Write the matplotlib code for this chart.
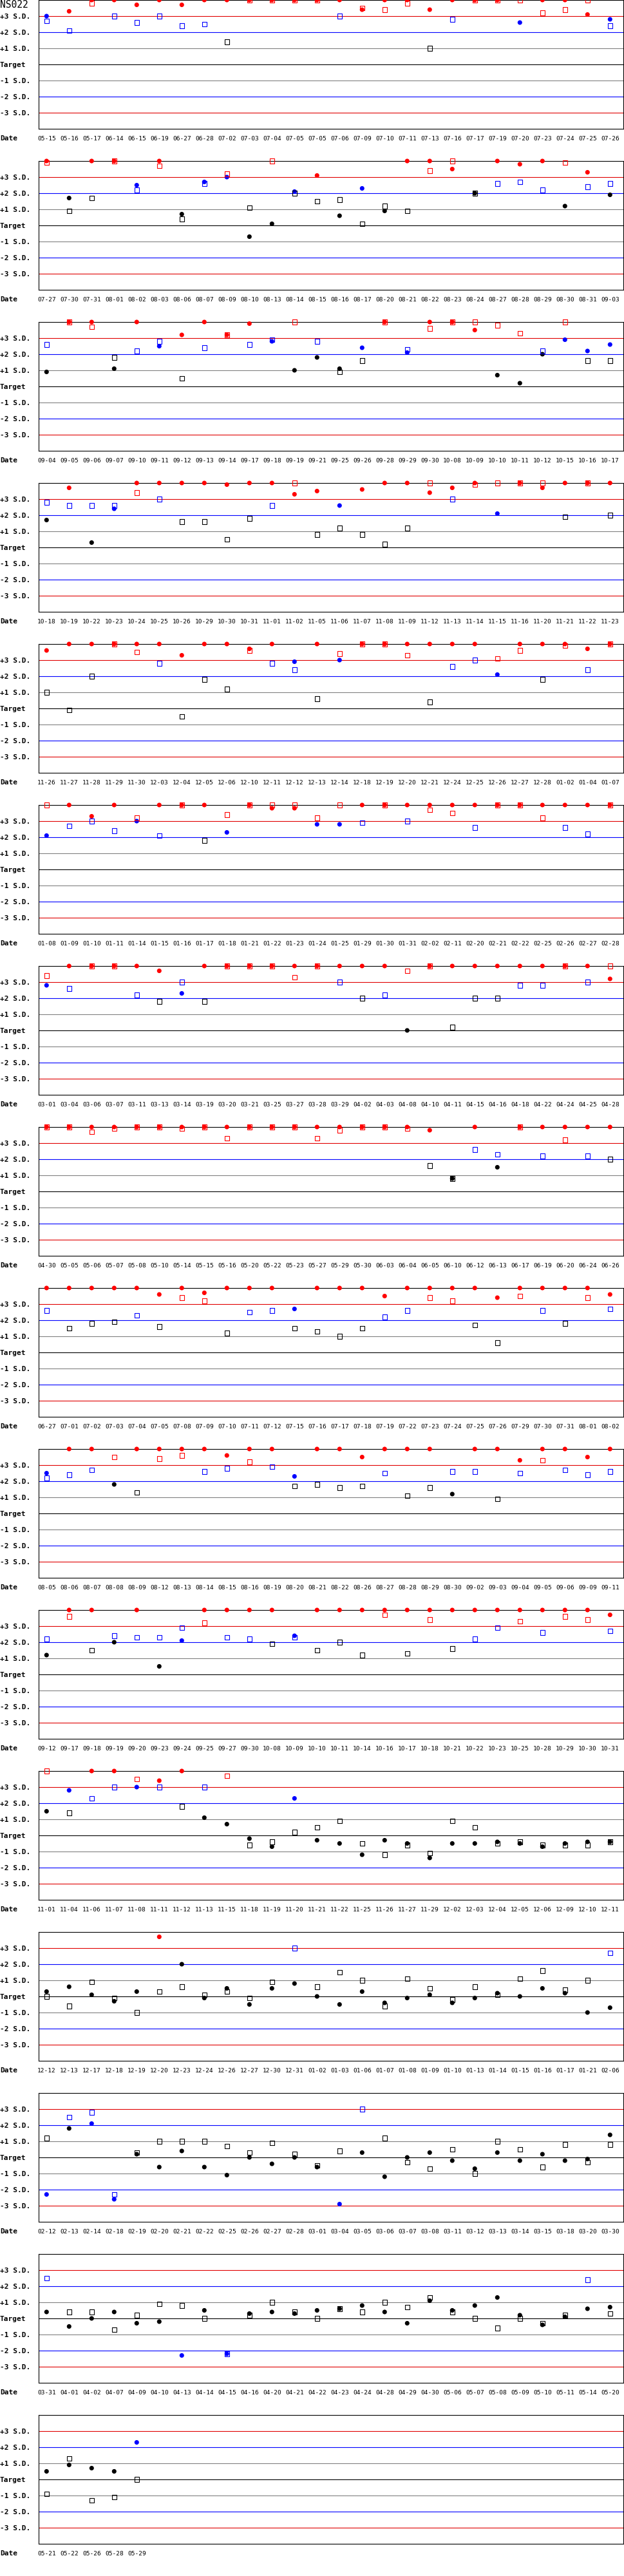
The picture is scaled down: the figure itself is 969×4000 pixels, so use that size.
import matplotlib
matplotlib.use("Agg")
import matplotlib.pyplot as plt
import numpy as np

# values are in S.D. units; 4.0 means the point sits on the top edge (off scale)
title = "NS022"
sd_levels = [3, 2, 1, 0, -1, -2, -3]
sd_labels = ["+3 S.D.", "+2 S.D.", "+1 S.D.", "Target", "-1 S.D.", "-2 S.D.", "-3 S.D."]
sd_colors = ["#e00000", "#0000ff", "#808080", "#000000", "#808080", "#0000ff", "#e00000"]

dates_01 = ["05-15", "05-16", "05-17", "06-14", "06-15", "06-19", "06-27", "06-28", "07-02", "07-03",
            "07-04", "07-05", "07-05", "07-06", "07-09", "07-10", "07-11", "07-13", "07-16", "07-17",
            "07-19", "07-20", "07-23", "07-24", "07-25", "07-26"]
circle_01 = [3.0, 3.3, 4, 4, 3.7, 4, 3.7, 4, 4, 4, 4, 4, 4, 4, 3.4, 4, 4, 3.4, 4, 4, 4, 2.6, 4, 4, 3.1, 2.8]
square_01 = [2.7, 2.1, 3.8, 3.0, 2.6, 3.0, 2.4, 2.5, 1.4, 4, 4, 4, 4, 3.0, 3.5, 3.4, 3.8, 1.0, 2.8, 4, 4, 4, 3.2, 3.4, 4, 2.4]

dates_02 = ["07-27", "07-30", "07-31", "08-01", "08-02", "08-03", "08-06", "08-07", "08-09", "08-10",
            "08-13", "08-14", "08-15", "08-16", "08-17", "08-20", "08-21", "08-22", "08-23", "08-24",
            "08-27", "08-28", "08-29", "08-30", "08-31", "09-03"]
circle_02 = [4, 1.7, 4, 4, 2.5, 4, 0.7, 2.7, 3.0, -0.7, 0.1, 2.1, 3.1, 0.6, 2.3, 0.9, 4, 4, 3.5, 2.0, 4, 3.8, 4, 1.2, 3.3, 1.9]
square_02 = [3.9, 0.9, 1.7, 4, 2.2, 3.7, 0.4, 2.6, 3.2, 1.1, 4, 2.0, 1.5, 1.6, 0.1, 1.2, 0.9, 3.4, 4, 2.0, 2.6, 2.7, 2.2, 3.9, 2.4, 2.6]

dates_03 = ["09-04", "09-05", "09-06", "09-07", "09-10", "09-11", "09-12", "09-13", "09-14", "09-17",
            "09-18", "09-19", "09-21", "09-25", "09-26", "09-28", "09-29", "09-30", "10-08", "10-09",
            "10-10", "10-11", "10-12", "10-15", "10-16", "10-17"]
circle_03 = [0.9, 4, 4, 1.1, 4, 2.5, 3.2, 4, 3.2, 3.9, 2.8, 1.0, 1.8, 1.1, 2.4, 4, 2.1, 4, 4, 3.5, 0.7, 0.2, 2.0, 2.9, 2.2, 2.6]
square_03 = [2.6, 4, 3.7, 1.8, 2.2, 2.8, 0.5, 2.4, 3.2, 2.6, 2.9, 4, 2.8, 0.9, 1.6, 4, 2.3, 3.6, 4, 4, 3.8, 3.3, 2.2, 4, 1.6, 1.6]

dates_04 = ["10-18", "10-19", "10-22", "10-23", "10-24", "10-25", "10-26", "10-29", "10-30", "10-31",
            "11-01", "11-02", "11-05", "11-06", "11-07", "11-08", "11-09", "11-12", "11-13", "11-14",
            "11-15", "11-16", "11-20", "11-21", "11-22", "11-23"]
circle_04 = [1.7, 3.7, 0.3, 2.4, 4, 4, 4, 4, 3.9, 4, 4, 3.3, 3.5, 2.6, 3.6, 4, 4, 3.4, 3.7, 4, 2.1, 4, 3.7, 4, 4, 4]
square_04 = [2.8, 2.6, 2.6, 2.6, 3.4, 3.0, 1.6, 1.6, 0.5, 1.8, 2.6, 4, 0.8, 1.2, 0.8, 0.2, 1.2, 4, 3.0, 3.9, 4, 4, 4, 1.9, 4, 2.0]

dates_05 = ["11-26", "11-27", "11-28", "11-29", "11-30", "12-03", "12-04", "12-05", "12-06", "12-10",
            "12-11", "12-12", "12-13", "12-14", "12-18", "12-19", "12-20", "12-21", "12-24", "12-25",
            "12-26", "12-27", "12-28", "01-02", "01-04", "01-07"]
circle_05 = [3.6, 4, 4, 4, 4, 4, 3.3, 4, 4, 3.7, 4, 2.9, 4, 3.0, 4, 4, 4, 4, 4, 4, 2.1, 4, 4, 4, 3.7, 4]
square_05 = [1.0, -0.1, 2.0, 4, 3.5, 2.8, -0.5, 1.8, 1.2, 3.6, 2.8, 2.4, 0.6, 3.4, 4, 4, 3.3, 0.4, 2.6, 3.0, 3.1, 3.6, 1.8, 3.9, 2.4, 4]

dates_06 = ["01-08", "01-09", "01-10", "01-11", "01-14", "01-15", "01-16", "01-17", "01-18", "01-21",
            "01-22", "01-23", "01-24", "01-25", "01-29", "01-30", "01-31", "02-02", "02-11", "02-20",
            "02-21", "02-22", "02-25", "02-26", "02-27", "02-28"]
circle_06 = [2.1, 4, 3.3, 4, 3.0, 4, 4, 4, 2.3, 4, 3.8, 3.8, 2.8, 2.8, 4, 4, 4, 4, 4, 4, 4, 4, 4, 4, 4, 4]
square_06 = [4, 2.7, 3.0, 2.4, 3.2, 2.1, 4, 1.8, 3.4, 4, 4, 4, 3.2, 4, 2.9, 4, 3.0, 3.7, 3.5, 2.6, 4, 4, 3.2, 2.6, 2.2, 4]

dates_07 = ["03-01", "03-04", "03-06", "03-07", "03-11", "03-13", "03-14", "03-19", "03-20", "03-21",
            "03-25", "03-27", "03-28", "03-29", "04-02", "04-03", "04-08", "04-10", "04-11", "04-15",
            "04-16", "04-18", "04-22", "04-24", "04-25", "04-28"]
circle_07 = [2.8, 4, 4, 4, 4, 3.7, 2.3, 4, 4, 4, 4, 4, 4, 4, 4, 4, 0.0, 4, 4, 4, 4, 4, 4, 4, 4, 3.2]
square_07 = [3.4, 2.6, 4, 4, 2.2, 1.8, 3.0, 1.8, 4, 4, 4, 3.3, 4, 3.0, 2.0, 2.2, 3.7, 4, 0.2, 2.0, 2.0, 2.8, 2.8, 4, 3.0, 4]

dates_08 = ["04-30", "05-05", "05-06", "05-07", "05-08", "05-10", "05-14", "05-15", "05-16", "05-20",
            "05-22", "05-23", "05-27", "05-29", "05-30", "06-03", "06-04", "06-05", "06-10", "06-12",
            "06-13", "06-17", "06-19", "06-20", "06-24", "06-26"]
circle_08 = [4, 4, 4, 4, 4, 4, 4, 4, 4, 4, 4, 4, 4, 4, 4, 4, 4, 3.8, 0.8, 4, 1.5, 4, 4, 4, 4, 4]
square_08 = [4, 4, 3.7, 3.9, 4, 4, 3.9, 4, 3.3, 4, 4, 4, 3.3, 3.8, 4, 4, 3.9, 1.6, 0.8, 2.6, 2.3, 4, 2.2, 3.2, 2.2, 2.0]

# rough estimates (panels 9-11, 13-15)
dates_09 = ["06-27", "07-01", "07-02", "07-03", "07-04", "07-05", "07-08", "07-09", "07-10", "07-11",
            "07-12", "07-15", "07-16", "07-17", "07-18", "07-19", "07-22", "07-23", "07-24", "07-25",
            "07-26", "07-29", "07-30", "07-31", "08-01", "08-02"]
circle_09 = [4, 4, 4, 4, 4, 3.6, 4, 3.7, 4, 4, 4, 2.7, 4, 4, 4, 3.5, 4, 4, 4, 4, 3.4, 4, 4, 4, 4, 3.6]
square_09 = [2.6, 1.5, 1.8, 1.9, 2.3, 1.6, 3.4, 3.2, 1.2, 2.5, 2.6, 1.5, 1.3, 1.0, 1.5, 2.2, 2.6, 3.4, 3.2, 1.7, 0.6, 3.5, 2.6, 1.8, 3.4, 2.7]

dates_10 = ["08-05", "08-06", "08-07", "08-08", "08-09", "08-12", "08-13", "08-14", "08-15", "08-16",
            "08-19", "08-20", "08-21", "08-22", "08-26", "08-27", "08-28", "08-29", "08-30", "09-02",
            "09-03", "09-04", "09-05", "09-06", "09-09", "09-11"]
circle_10 = [2.5, 4, 4, 1.8, 4, 4, 4, 4, 3.6, 4, 4, 2.3, 4, 4, 3.5, 4, 4, 4, 1.2, 4, 4, 3.3, 4, 4, 3.5, 4]
square_10 = [2.2, 2.4, 2.7, 3.5, 1.3, 3.4, 3.6, 2.6, 2.8, 3.2, 2.9, 1.7, 1.8, 1.6, 1.7, 2.5, 1.1, 1.6, 2.6, 2.6, 0.9, 2.5, 3.3, 2.7, 2.4, 2.6]

dates_11 = ["09-12", "09-17", "09-18", "09-19", "09-20", "09-23", "09-24", "09-25", "09-27", "09-30",
            "10-08", "10-09", "10-10", "10-11", "10-14", "10-16", "10-17", "10-18", "10-21", "10-22",
            "10-23", "10-25", "10-28", "10-29", "10-30", "10-31"]
circle_11 = [1.2, 4, 4, 2.0, 4, 0.5, 2.1, 4, 4, 4, 4, 2.4, 4, 4, 4, 4, 4, 4, 4, 4, 4, 4, 4, 4, 4, 3.7]
square_11 = [2.2, 3.6, 1.5, 2.4, 2.3, 2.3, 2.9, 3.2, 2.3, 2.2, 1.9, 2.3, 1.5, 2.0, 1.2, 3.7, 1.3, 3.4, 1.6, 2.2, 2.9, 3.3, 2.6, 3.6, 3.4, 2.7]

dates_12 = ["11-01", "11-04", "11-06", "11-07", "11-08", "11-11", "11-12", "11-13", "11-15", "11-18",
            "11-19", "11-20", "11-21", "11-22", "11-25", "11-26", "11-27", "11-29", "12-02", "12-03",
            "12-04", "12-05", "12-06", "12-09", "12-10", "12-11"]
circle_12 = [1.5, 2.8, 4, 4, 3.0, 3.4, 4, 1.1, 0.7, -0.2, -0.7, 2.3, -0.3, -0.5, -1.2, -0.3, -0.5, -1.4, -0.5, -0.5, -0.4, -0.5, -0.7, -0.5, -0.4, -0.4]
square_12 = [4, 1.4, 2.3, 3.0, 3.5, 3.0, 1.8, 3.0, 3.7, -0.6, -0.4, 0.2, 0.5, 0.9, -0.5, -1.2, -0.6, -1.1, 0.9, 0.5, -0.5, -0.4, -0.6, -0.6, -0.6, -0.4]

dates_13 = ["12-12", "12-13", "12-17", "12-18", "12-19", "12-20", "12-23", "12-24", "12-26", "12-27",
            "12-30", "12-31", "01-02", "01-03", "01-06", "01-07", "01-08", "01-09", "01-10", "01-13",
            "01-14", "01-15", "01-16", "01-17", "01-21", "02-06"]
circle_13 = [0.3, 0.6, 0.1, -0.3, 0.3, 3.7, 2.0, -0.1, 0.5, -0.5, 0.5, 0.8, 0.0, -0.5, 0.3, -0.4, -0.1, 0.1, -0.4, -0.1, 0.2, 0.0, 0.5, 0.2, -1.0, -0.7]
square_13 = [0.0, -0.6, 0.9, -0.1, -1.0, 0.3, 0.6, 0.1, 0.3, -0.1, 0.9, 3.0, 0.6, 1.5, 1.0, -0.6, 1.1, 0.5, -0.2, 0.6, 0.1, 1.1, 1.6, 0.4, 1.0, 2.7]

dates_14 = ["02-12", "02-13", "02-14", "02-18", "02-19", "02-20", "02-21", "02-22", "02-25", "02-26",
            "02-27", "02-28", "03-01", "03-04", "03-05", "03-06", "03-07", "03-08", "03-11", "03-12",
            "03-13", "03-14", "03-15", "03-18", "03-20", "03-30"]
circle_14 = [-2.3, 1.8, 2.1, -2.6, 0.2, -0.6, 0.4, -0.6, -1.1, 0.0, -0.4, 0.0, -0.6, -2.9, 0.3, -1.2, 0.0, 0.3, -0.2, -0.7, 0.3, -0.2, 0.2, -0.2, -0.1, 1.4]
square_14 = [1.2, 2.5, 2.8, -2.3, 0.3, 1.0, 1.0, 1.0, 0.7, 0.3, 0.9, 0.2, -0.5, 0.4, 3.0, 1.2, -0.3, -0.7, 0.5, -1.0, 1.0, 0.5, -0.6, 0.8, -0.3, 0.8]

dates_15 = ["03-31", "04-01", "04-02", "04-07", "04-09", "04-10", "04-13", "04-14", "04-15", "04-16",
            "04-20", "04-21", "04-22", "04-23", "04-24", "04-28", "04-29", "04-30", "05-06", "05-07",
            "05-08", "05-09", "05-10", "05-11", "05-14", "05-20"]
circle_15 = [0.4, -0.5, 0.0, 0.4, -0.3, -0.2, -2.3, 0.5, -2.2, 0.3, 0.4, 0.3, 0.5, 0.6, 0.8, 0.4, -0.3, 1.1, 0.5, 0.8, 1.3, 0.2, -0.4, 0.1, 0.6, 0.7]
square_15 = [2.5, 0.4, 0.4, -0.7, 0.2, 0.9, 0.8, 0.0, -2.2, 0.2, 1.0, 0.4, 0.0, 0.6, 0.4, 1.0, 0.7, 1.3, 0.4, 0.0, -0.6, 0.0, -0.3, 0.2, 2.4, 0.3]

dates_16 = ["05-21", "05-22", "05-26", "05-28", "05-29"]
circle_16 = [0.5, 0.9, 0.7, 0.5, 2.3]
square_16 = [-0.9, 1.3, -1.3, -1.1, 0.0]

panels = [
    (dates_01, circle_01, square_01), (dates_02, circle_02, square_02),
    (dates_03, circle_03, square_03), (dates_04, circle_04, square_04),
    (dates_05, circle_05, square_05), (dates_06, circle_06, square_06),
    (dates_07, circle_07, square_07), (dates_08, circle_08, square_08),
    (dates_09, circle_09, square_09), (dates_10, circle_10, square_10),
    (dates_11, circle_11, square_11), (dates_12, circle_12, square_12),
    (dates_13, circle_13, square_13), (dates_14, circle_14, square_14),
    (dates_15, circle_15, square_15), (dates_16, circle_16, square_16),
]


def point_color(v):
    if abs(v) > 3:
        return "#ff0000"
    if abs(v) > 2:
        return "#0000ff"
    return "#000000"


W, H = 970, 4000
fig = plt.figure(figsize=(W / 100, H / 100), dpi=100)
mono = "DejaVu Sans Mono"

fig.text(0, 1 - 8 / H, title, fontsize=10.5, family=mono, va="center", ha="left")

for k, (dates, circ, sq) in enumerate(panels):
    top = 250 * k
    ax = fig.add_axes([60 / W, 1 - (top + 200) / H, 908 / W, 200 / H])
    ax.set_xlim(-12.3 / 35, (908 - 12.3) / 35)
    ax.set_ylim(-4, 4)
    for lvl, c in zip(sd_levels, sd_colors):
        ax.axhline(lvl, color=c, lw=0.8, zorder=1)
    for s in ax.spines.values():
        s.set_linewidth(0.8)
        s.set_color("black")

    ax.set_yticks(sd_levels)
    ax.set_yticklabels(sd_labels, fontsize=8, family=mono, fontweight="bold")
    ax.tick_params(axis="y", length=0, pad=43.2)
    for lbl in ax.get_yticklabels():
        lbl.set_horizontalalignment("left")

    x = np.arange(len(dates))
    ax.set_xticks(x)
    ax.set_xticklabels(dates, fontsize=6.8, family=mono)
    ax.tick_params(axis="x", length=0, pad=8)

    fig.text(0, 1 - (top + 215) / H, "Date", fontsize=8, family=mono,
             fontweight="bold", va="center", ha="left")

    cv = np.clip(circ, -4, 4)
    sv = np.clip(sq, -4, 4)
    ax.scatter(x, cv, s=26, marker="o", c=[point_color(v) for v in circ],
               linewidths=0, zorder=3, clip_on=False)
    ax.scatter(x, sv, s=26, marker="s", facecolors="none",
               edgecolors=[point_color(v) for v in sq], linewidths=0.8,
               zorder=4, clip_on=False)

fig.savefig("out.png", dpi=100)
